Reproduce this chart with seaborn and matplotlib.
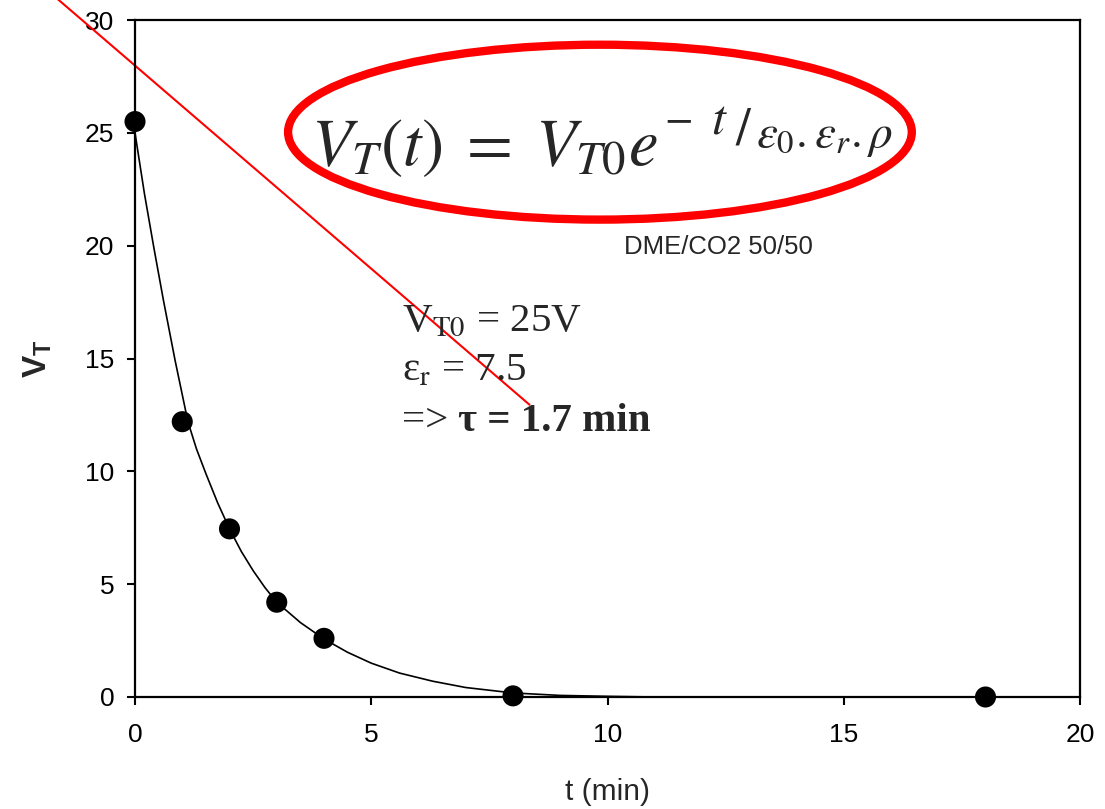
import pandas as pd
import seaborn as sns
import matplotlib.pyplot as plt
from matplotlib.patches import Ellipse
from matplotlib.offsetbox import TextArea, HPacker, AnnotationBbox

# measured points (t in min, V_T in V)
t_meas = [0, 1, 2, 3, 4, 8, 18]
v_meas = [25.5, 12.2, 7.45, 4.2, 2.6, 0.05, 0.0]

# fitted decay curve
t_fit = [0, 0.2, 0.4, 0.6, 0.85, 1.12, 1.3, 1.5, 1.75, 2.0, 2.25, 2.5, 2.75, 3.0,
         3.5, 4.0, 4.5, 5.0, 5.6, 6.3, 7.0, 8.0, 9.0, 10.0, 11.0]
v_fit = [25.0, 22.3, 19.9, 17.6, 14.9, 12.2, 11.0, 9.9, 8.6, 7.45, 6.45, 5.6, 4.85, 4.2,
         3.3, 2.57, 1.98, 1.5, 1.06, 0.7, 0.42, 0.18, 0.07, 0.03, 0.0]

# red tangent line end points
t_tan = [-1.65, 8.35]
v_tan = [30.95, 12.95]

x_ticks = [0, 5, 10, 15, 20]
y_ticks = [0, 5, 10, 15, 20, 25, 30]

sns.set_style('ticks')
plt.rcParams['font.family'] = ['Liberation Sans', 'DejaVu Sans']
plt.rcParams['mathtext.fontset'] = 'custom'
plt.rcParams['mathtext.rm'] = 'Liberation Sans'
plt.rcParams['mathtext.bf'] = 'Liberation Sans:bold'

fig = plt.figure(figsize=(11.05, 8.09), dpi=100)
ax = fig.add_axes([135 / 1105, 1 - 697 / 809, 945 / 1105, 677 / 809])

df_fit = pd.DataFrame({'t': t_fit, 'v': v_fit})
df_meas = pd.DataFrame({'t': t_meas, 'v': v_meas})

sns.lineplot(data=df_fit, x='t', y='v', color='black', linewidth=1.2, ax=ax, zorder=3)
sns.scatterplot(data=df_meas, x='t', y='v', color='black', s=230, edgecolor='none',
                ax=ax, zorder=4, clip_on=False)
ax.plot(t_tan, v_tan, color='red', linewidth=1.5, clip_on=False, zorder=2)

ax.set_xlim(0, 20)
ax.set_ylim(0, 30)
ax.set_xticks(x_ticks)
ax.set_yticks(y_ticks)
ax.tick_params(direction='out', length=6, width=1.5, labelsize=19, colors='black')
ax.tick_params(axis='x', pad=13)
ax.tick_params(axis='y', pad=9)
for s in ax.spines.values():
    s.set_linewidth(1.6)
    s.set_color('black')

ax.set_xlabel('t (min)', fontsize=21.5, labelpad=22)
ax.set_ylabel(r'$\mathbf{V}_\mathbf{T}$', fontsize=24, labelpad=22)

# formula in the red ellipse
eq = dict(math_fontfamily='stix', ha='left', zorder=6)
ax.add_patch(Ellipse((9.84, 25.03), 13.2, 7.75, fill=False, edgecolor='red',
                     linewidth=6, zorder=5))
ax.text(3.72, 23.57, r'$V_T(t)\;=\;V_{T0}e$', fontsize=48, va='baseline', **eq)
ax.text(11.2, 25.6, r'$-$', fontsize=30, va='center', **eq)
ax.text(12.2, 24.99, r'$t$', fontsize=36, va='baseline', **eq)
ax.text(12.7, 25.1, r'$/$', fontsize=38, va='center', **eq)
ax.text(13.15, 24.37, r'$\varepsilon_0.\varepsilon_r.\rho$', fontsize=34, va='baseline', **eq)

ax.text(12.34, 19.94, 'DME/CO2 50/50', fontsize=18.5, ha='center', va='center', zorder=6)

# parameter block (Times-like)
serif = 'Liberation Serif'
ax.text(5.65, 16.25, r'V$_{\rm T0}$ = 25V', fontsize=29.5, family=serif,
        math_fontfamily='stix', va='baseline')
ax.text(5.65, 14.0, r'ε$_{\rm r}$ = 7.5', fontsize=29.5, family=serif,
        math_fontfamily='stix', va='baseline')
line3 = HPacker(children=[
    TextArea('=> ', textprops=dict(fontsize=29.5, family=serif)),
    TextArea('τ = 1.7 min', textprops=dict(fontsize=29.5, family=serif, weight='bold')),
], sep=0, pad=0, align='baseline')
ax.add_artist(AnnotationBbox(line3, (5.65, 11.7), frameon=False, box_alignment=(0, 0.2),
                             pad=0, zorder=6))

fig.savefig('out.png', dpi=100)
